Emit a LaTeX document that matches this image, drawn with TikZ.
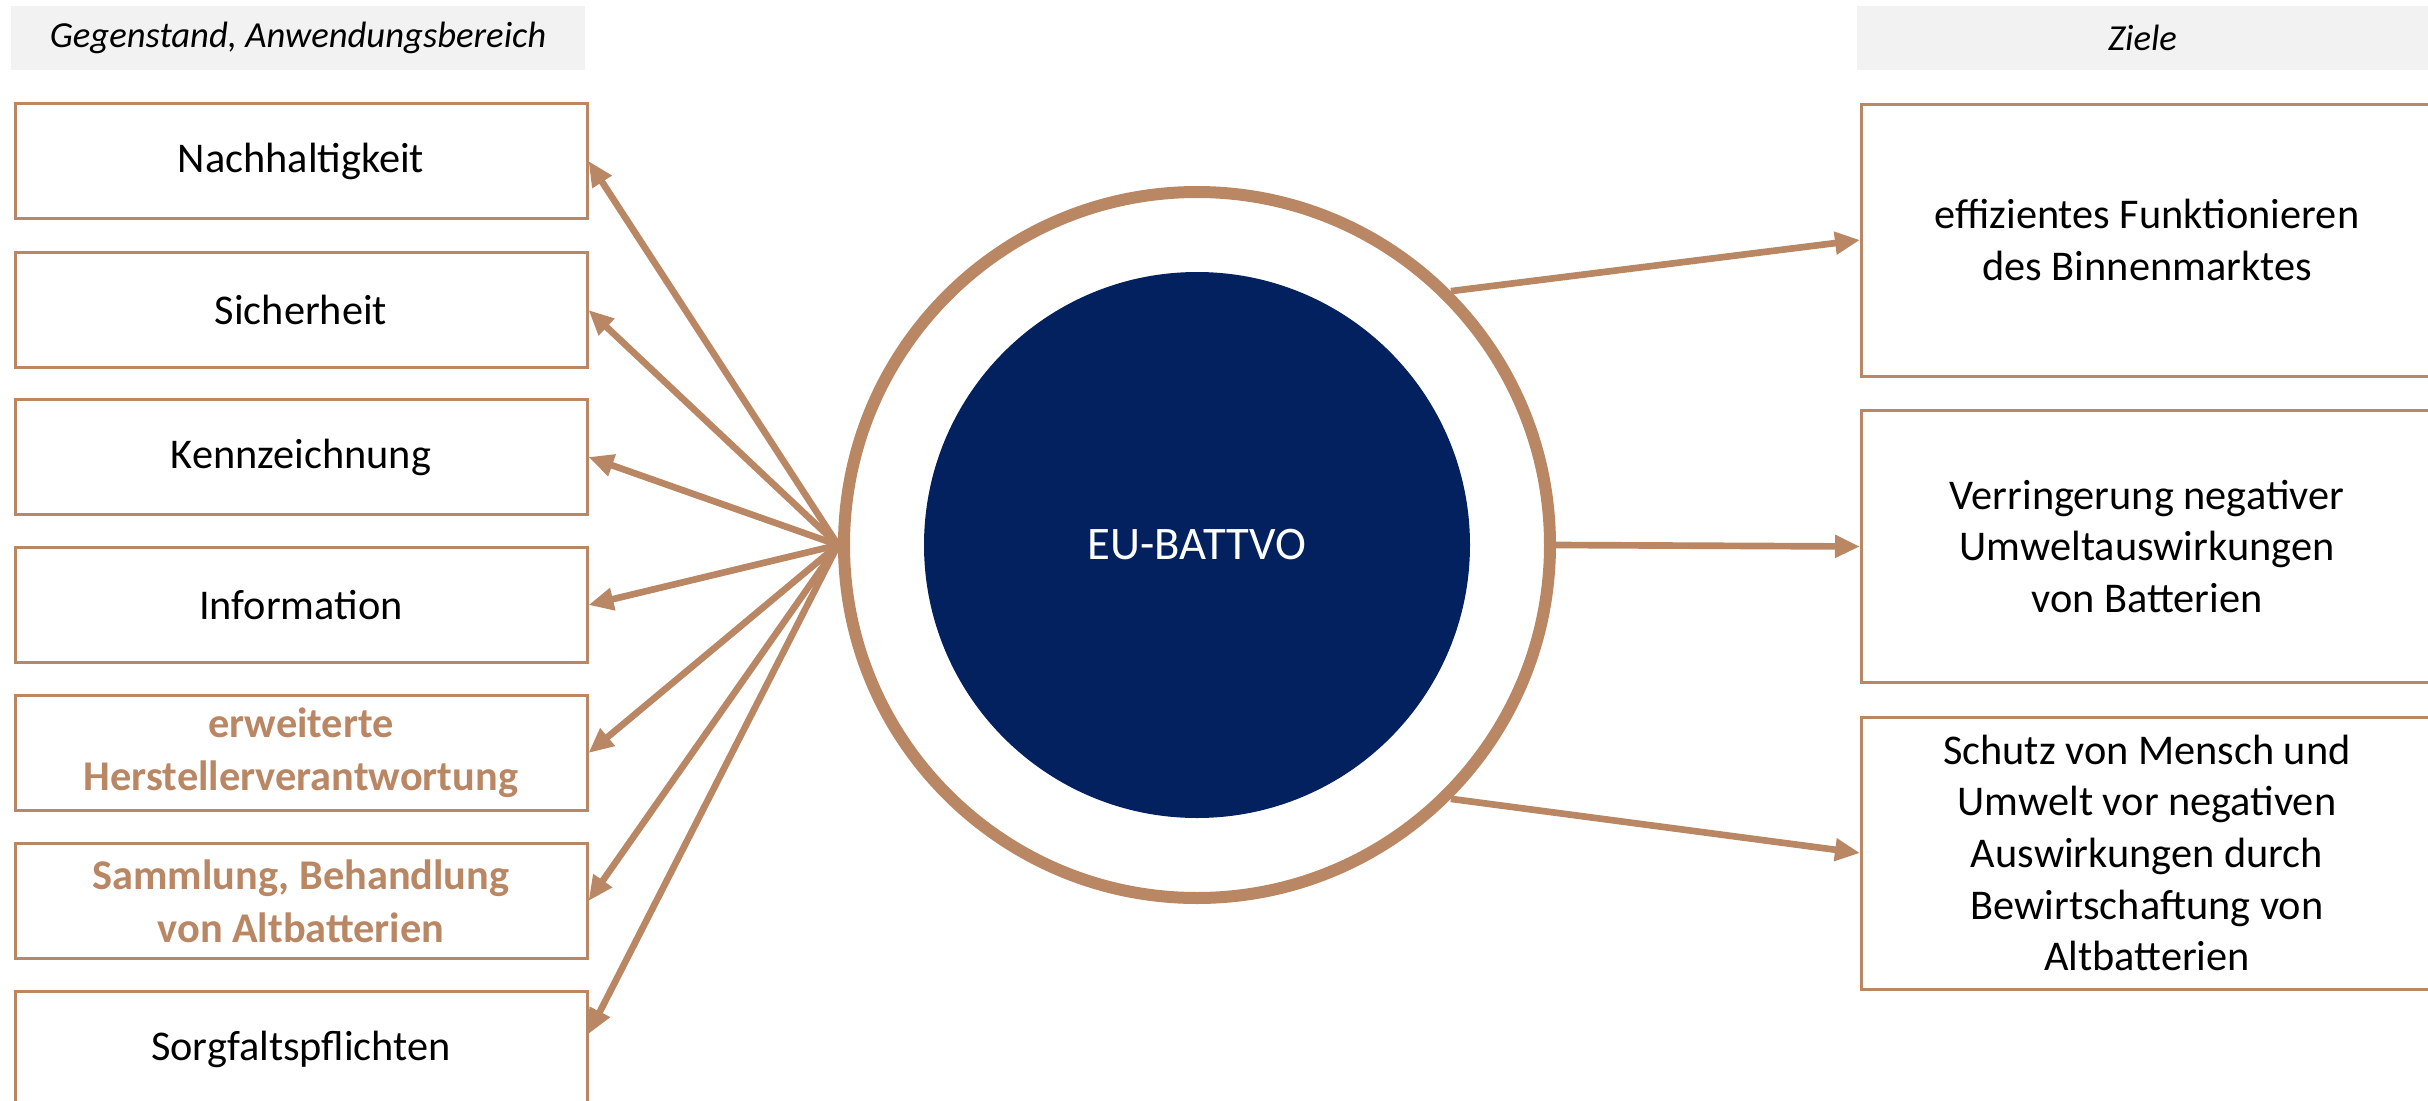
\documentclass[tikz,border=0pt]{standalone}
\usepackage{fontspec}
\setmainfont{Carlito}
\usetikzlibrary{arrows.meta,calc}
\definecolor{tan}{RGB}{186,135,100}
\definecolor{navy}{RGB}{3,33,94}
\definecolor{headgrey}{RGB}{242,242,242}
\begin{document}
\begin{tikzpicture}[x=0.3pt,y=-0.3pt,
  every node/.style={inner sep=0pt, font=\fontsize{12.7pt}{15.5pt}\selectfont},
  topic/.style={draw=tan, line width=0.9pt, fill=white, minimum width=171.6pt, minimum height=34.5pt, align=center},
  goal/.style={draw=tan, line width=0.9pt, fill=white, minimum width=171.3pt, minimum height=81.6pt, anchor=west, align=center},
  header/.style={fill=headgrey, minimum height=19.2pt, font=\fontsize{11pt}{13pt}\selectfont\itshape},
  hl/.style={text=tan, font=\fontsize{12.7pt}{16pt}\selectfont\bfseries},
  link/.style={draw=tan, line width=2pt, -{Triangle[length=7.5pt,width=6.5pt]}}
]
\clip (0,0) rectangle (2428,1101);

% column headers
\node[header, minimum width=172.2pt] (hleft) at (298,38) {Gegenstand, Anwendungsbereich};
\node[header, minimum width=171.3pt] (hright) at (2142.5,38) {Ziele};

% subject matter and scope
\node[topic] (t1) at (301,161) {Nachhaltigkeit};
\node[topic] (t2) at (301,310) {Sicherheit};
\node[topic] (t3) at (301,457) {Kennzeichnung};
\node[topic] (t4) at (301,605) {Information};
\node[topic, hl] (t5) at (301,753) {erweiterte\\Herstellerverantwortung};
\node[topic, hl] (t6) at (301,901) {Sammlung, Behandlung\\von Altbatterien};
\node[topic] (t7) at (301,1049) {Sorgfaltspflichten};

% objectives
\node[goal] (g1) at (1860,240) {effizientes Funktionieren\\des Binnenmarktes};
\node[goal] (g2) at (1860,546.5) {Verringerung negativer\\Umweltauswirkungen\\von Batterien};
\node[goal] (g3) at (1860,853) {Schutz von Mensch und\\Umwelt vor negativen\\Auswirkungen durch\\Bewirtschaftung von\\Altbatterien};

% regulation hub
\node[circle, draw=tan, line width=3.6pt, minimum size=211.8pt] (ring) at (1197,545) {};
\node[circle, fill=navy, minimum size=163.8pt, text=white,
      font=\fontsize{14pt}{16pt}\selectfont] (core) at (ring.center) {EU-BATTVO};

% connectors
\foreach \t in {t1,t2,t3,t4,t5,t6}
  \draw[link] (ring.west) -- (\t.east);
\draw[link] (ring.west) -- ([yshift=4.5pt]t7.east);
\draw[link] (ring.45) -- (g1.west);
\draw[link] (ring.east) -- (g2.west);
\draw[link] (ring.-45) -- (g3.west);
\end{tikzpicture}
\end{document}
